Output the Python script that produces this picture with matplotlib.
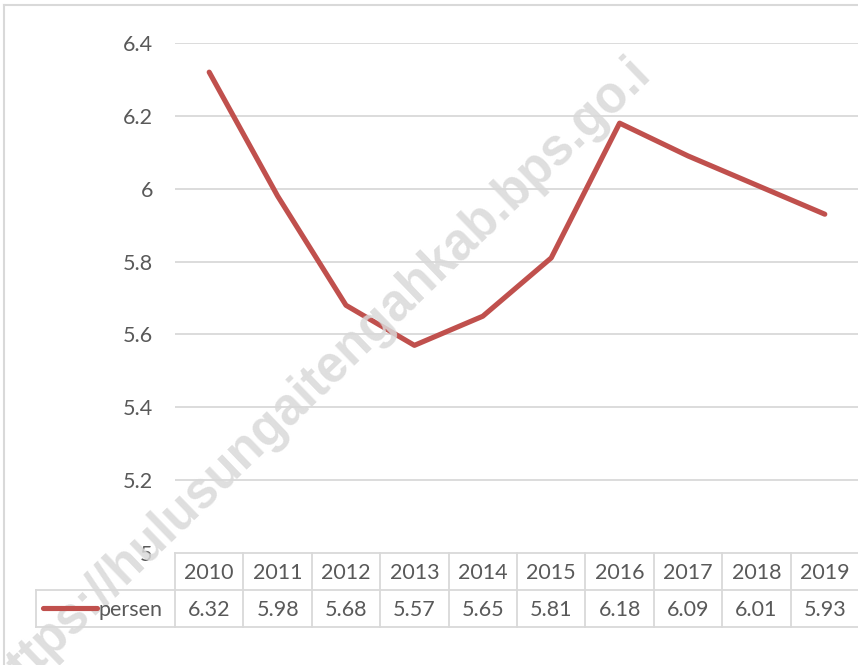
import matplotlib.pyplot as plt
import matplotlib.transforms as mtransforms
from matplotlib.lines import Line2D

years = ['2010', '2011', '2012', '2013', '2014', '2015', '2016', '2017', '2018', '2019']
persen = [6.32, 5.98, 5.68, 5.57, 5.65, 5.81, 6.18, 6.09, 6.01, 5.93]
series_name = 'persen'
yticks = [5, 5.2, 5.4, 5.6, 5.8, 6, 6.2, 6.4]
ytick_labels = ['5', '5.2', '5.4', '5.6', '5.8', '6', '6.2', '6.4']
watermark = 'https://hulusungaitengahkab.bps.go.i'

W, H = 858, 665
line_color = '#C0504D'
grid_color = '#d9d9d9'
text_color = '#595959'
fs = 15.5

plt.rcParams['font.family'] = ['Lato', 'DejaVu Sans']

fig = plt.figure(figsize=(W / 100, H / 100), dpi=100)


def fx(px):
    return px / W


def fy(py):
    return 1 - py / H


# watermark, under the line
fig.text(fx(318), fy(379), watermark, rotation=44, ha='center', va='center',
         fontsize=36.5, fontweight='bold', family='Liberation Sans', color='#d9d9d9',
         alpha=0.85, zorder=0, rotation_mode='anchor')

ax = fig.add_axes([fx(175), fy(553), fx(859) - fx(175), fy(43) - fy(553)])
ax.patch.set_alpha(0)
x = list(range(len(years)))
ax.plot(x, persen, color=line_color, lw=3.7, solid_capstyle='round', zorder=3)
ax.set_xlim(-0.5, len(years) - 0.5)
ax.set_ylim(5, 6.4)
ax.set_yticks(yticks)
ax.set_yticklabels(ytick_labels, fontsize=fs, color=text_color)
ax.tick_params(axis='y', length=0, pad=16)
ax.set_xticks([])
for s in ax.spines.values():
    s.set_visible(False)
for t in yticks[1:]:
    ax.axhline(t, color=grid_color, lw=1.3, zorder=1)

# chart border
fig.add_artist(Line2D([fx(4), fx(4)], [fy(5), 0], color=grid_color, lw=1.5))
fig.add_artist(Line2D([fx(4), 1], [fy(5), fy(5)], color=grid_color, lw=1.5))

# data table below the plot
tr = mtransforms.blended_transform_factory(ax.transData, fig.transFigure)
y0, y1, y2 = fy(553), fy(590), fy(627)
n = len(years)
ax.add_artist(Line2D([-0.5, n - 0.5], [y0, y0], transform=tr, color=grid_color,
                     lw=1.3, clip_on=False))
for yy in (y1, y2):
    fig.add_artist(Line2D([fx(36), 1], [yy, yy], color=grid_color, lw=1.3))
fig.add_artist(Line2D([fx(36), fx(36)], [y1, y2], color=grid_color, lw=1.3))
for i in range(n):
    ax.add_artist(Line2D([i - 0.5, i - 0.5], [y0, y2], transform=tr, color=grid_color,
                         lw=1.3, clip_on=False))
    ax.text(i, fy(573), years[i], transform=tr, ha='center', va='center',
            fontsize=fs, color=text_color, clip_on=False)
    ax.text(i, fy(610), '%.2f' % persen[i], transform=tr, ha='center',
            va='center', fontsize=fs, color=text_color, clip_on=False)

# legend key in the table
fig.add_artist(Line2D([fx(43), fx(97)], [fy(608), fy(608)], color=line_color, lw=3.7,
                      solid_capstyle='round'))
fig.text(fx(99), fy(610), series_name, ha='left', va='center', fontsize=fs,
         color=text_color)

fig.savefig('out.png', dpi=100)
